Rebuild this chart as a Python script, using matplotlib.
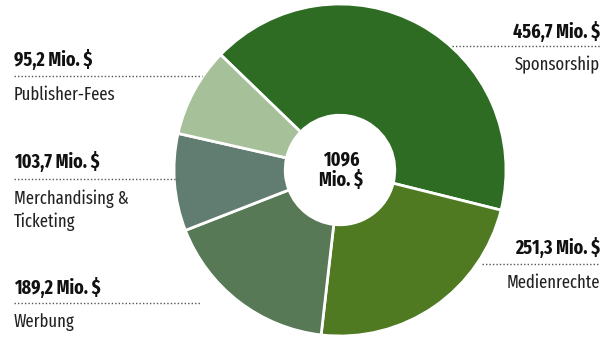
import matplotlib
matplotlib.use("Agg")
from matplotlib import pyplot as plt

# Umsatzanteile in Mio. $
kategorien = ["Sponsorship", "Medienrechte", "Werbung", "Merchandising &\nTicketing", "Publisher-Fees"]
werte = [456.7, 251.3, 189.2, 103.7, 95.2]
wert_labels = ["456,7 Mio. $", "251,3 Mio. $", "189,2 Mio. $", "103,7 Mio. $", "95,2 Mio. $"]
gesamt_label = "1096\nMio. $"
farben = ["#2e6c24", "#4f7a21", "#587955", "#617d71", "#a6c099"]

plt.rcParams['font.family'] = ['Fira Sans Extra Condensed', 'DejaVu Sans']

W, H = 608, 338
fig = plt.figure(figsize=(W / 100, H / 100), dpi=100)
ax = fig.add_axes([0, 0, 1, 1])

cx, cy, r = 340, H - 170, 166
ax.pie(werte, colors=farben, startangle=136, counterclock=False,
       center=(cx, cy), radius=r, frame=True,
       wedgeprops=dict(width=r * 0.67, edgecolor="white", linewidth=2))
ax.set_xlim(0, W)
ax.set_ylim(0, H)
ax.set_aspect("equal")
ax.axis("off")

ax.text(cx + 1, cy, gesamt_label, ha="center", va="center", fontsize=14,
        fontweight="bold", linespacing=1.05, color="#111111")

# Beschriftungen: (x Text, y Wert, y Linie, y Kategorie, Linie von, Linie bis, Ausrichtung)
pos = [
    (600, 32, 46, 65, 452, 600, "right"),
    (600, 248, 264, 283, 482, 600, "right"),
    (14, 288, 303, 322, 14, 200, "left"),
    (14, 162, 179, 198, 14, 178, "left"),
    (14, 60, 76, 95, 14, 202, "left"),
]
for kat, wl, (x, yw, yl, yk, x0, x1, ha) in zip(kategorien, wert_labels, pos):
    ax.text(x, H - yw, wl, ha=ha, va="center", fontsize=14, fontweight="bold",
            color="#111111")
    ax.plot([x0, x1], [H - yl, H - yl], color="#555555", linewidth=1,
            linestyle=(0, (1, 1.5)))
    if "\n" in kat:
        ax.text(x, H - yk + 9, kat, ha=ha, va="top", fontsize=13,
                color="#222222", linespacing=1.35)
    else:
        ax.text(x, H - yk, kat, ha=ha, va="center", fontsize=13, color="#222222")

fig.savefig("out.png", dpi=100)
